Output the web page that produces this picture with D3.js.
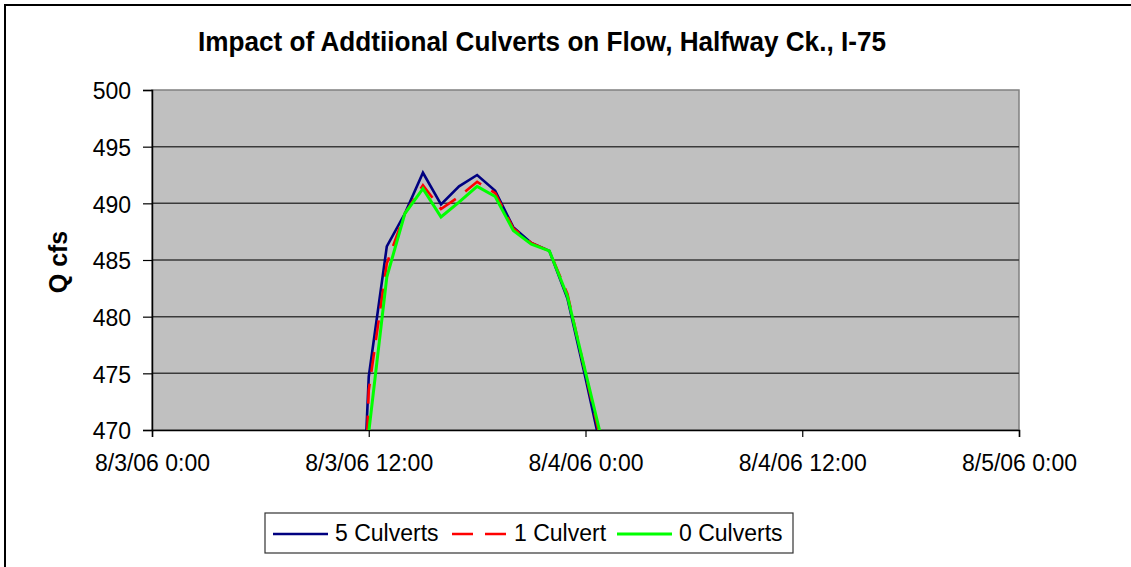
<!DOCTYPE html>
<html>
<head>
<meta charset="utf-8">
<script src="https://cdn.jsdelivr.net/npm/d3@7"></script>
<style>
  html, body { margin: 0; padding: 0; background: #fff; }
  svg { display: block; font-family: "Liberation Sans", Arial, sans-serif; }
</style>
</head>
<body>
<svg id="chart" width="1131" height="567"></svg>
<script>
// Hourly flow (cfs) on 8/3/06 – 8/4/06, hour offsets from 8/3/06 0:00
const hours = [11, 12, 13, 14, 15, 16, 17, 18, 19, 20, 21, 22, 23, 24, 25];
const fiveCulverts = [438, 474.7, 486.2, 489.1, 492.7, 489.9, 491.5, 492.5, 491.1, 487.9, 486.5, 485.8, 481.6, 474.6, 467.3];
const oneCulvert   = [430, 473.5, 484.7, 489.1, 491.6, 489.5, 490.6, 491.9, 490.9, 487.8, 486.5, 485.8, 482.0, 475.0, 468.0];
const zeroCulverts = [440, 469.8, 483.5, 489.1, 491.3, 488.8, 490.1, 491.5, 490.6, 487.6, 486.4, 485.8, 481.8, 475.1, 468.5];

const seriesNames = ["5 Culverts", "1 Culvert", "0 Culverts"];
const yTicks = [470, 475, 480, 485, 490, 495, 500];
const xTickHours = [0, 12, 24, 36, 48];
const xTickLabels = ["8/3/06 0:00", "8/3/06 12:00", "8/4/06 0:00", "8/4/06 12:00", "8/5/06 0:00"];

const svg = d3.select("#chart");
const plot = { left: 152, top: 90, right: 1019, bottom: 430 };

const x = d3.scaleLinear().domain([0, 48]).range([plot.left, plot.right]);
const y = d3.scaleLinear().domain([470, 500]).range([plot.bottom, plot.top]);

// outer chart frame
svg.append("rect")
  .attr("x", 5).attr("y", 5).attr("width", 1140).attr("height", 580)
  .attr("fill", "#fff").attr("stroke", "#000").attr("stroke-width", 2);

// title
svg.append("text")
  .attr("x", 542).attr("y", 51)
  .attr("text-anchor", "middle")
  .attr("font-size", 27).attr("font-weight", "bold")
  .attr("textLength", 688).attr("lengthAdjust", "spacingAndGlyphs")
  .text("Impact of Addtiional Culverts on Flow, Halfway Ck., I-75");

// plot background
svg.append("rect")
  .attr("x", plot.left).attr("y", plot.top)
  .attr("width", plot.right - plot.left).attr("height", plot.bottom - plot.top)
  .attr("fill", "#c0c0c0").attr("stroke", "#808080").attr("stroke-width", 1.5);

// horizontal gridlines
svg.append("g")
  .selectAll("line")
  .data(yTicks.filter(v => v > 470 && v < 500))
  .join("line")
  .attr("x1", plot.left).attr("x2", plot.right)
  .attr("y1", d => y(d)).attr("y2", d => y(d))
  .attr("stroke", "#3a3a3a").attr("stroke-width", 1.5);

// y axis
const yAxis = svg.append("g")
  .attr("transform", `translate(${plot.left},0)`)
  .call(d3.axisLeft(y).tickValues(yTicks).tickSize(9).tickPadding(12).tickFormat(d3.format("d")));
yAxis.select(".domain").attr("stroke", "#000").attr("stroke-width", 1.5);
yAxis.selectAll(".tick line").attr("stroke", "#000").attr("stroke-width", 1.2);
yAxis.selectAll(".tick text")
  .attr("font-size", 23).attr("font-family", "Liberation Sans, Arial, sans-serif")
  .attr("fill", "#000").attr("dy", "0.38em");

// x axis
const xAxis = svg.append("g")
  .attr("transform", `translate(0,${plot.bottom})`)
  .call(d3.axisBottom(x).tickValues(xTickHours).tickSize(7).tickPadding(18)
    .tickFormat((d, i) => xTickLabels[i]));
xAxis.select(".domain").attr("stroke", "#000").attr("stroke-width", 1.5);
xAxis.selectAll(".tick line").attr("stroke", "#000").attr("stroke-width", 1.2);
xAxis.selectAll(".tick text")
  .attr("font-size", 23).attr("font-family", "Liberation Sans, Arial, sans-serif")
  .attr("fill", "#000").attr("dy", "0.71em");

// y axis title
svg.append("text")
  .attr("transform", "translate(67,262) rotate(-90)")
  .attr("text-anchor", "middle")
  .attr("font-size", 25).attr("font-weight", "bold")
  .text("Q cfs");

// series lines, clipped to plot area
svg.append("clipPath").attr("id", "plotClip")
  .append("rect")
  .attr("x", plot.left).attr("y", plot.top)
  .attr("width", plot.right - plot.left).attr("height", plot.bottom - plot.top);

const line = d3.line().x(d => x(d[0])).y(d => y(d[1]));
const series = [
  { name: seriesNames[0], values: fiveCulverts, color: "#000080", width: 2.6, dash: null },
  { name: seriesNames[1], values: oneCulvert, color: "#ff0000", width: 2.6, dash: "20,12" },
  { name: seriesNames[2], values: zeroCulverts, color: "#00ff00", width: 3, dash: null }
];

const lines = svg.append("g").attr("clip-path", "url(#plotClip)");
series.forEach(s => {
  lines.append("path")
    .datum(hours.map((h, i) => [h, s.values[i]]))
    .attr("d", line)
    .attr("fill", "none")
    .attr("stroke", s.color)
    .attr("stroke-width", s.width)
    .attr("stroke-linejoin", "miter")
    .attr("stroke-dasharray", s.dash);
});

// legend
const legend = svg.append("g");
legend.append("rect")
  .attr("x", 265).attr("y", 513).attr("width", 528).attr("height", 40)
  .attr("fill", "#fff").attr("stroke", "#333").attr("stroke-width", 1.2);
const legendX = [273, 452, 617];
series.forEach((s, i) => {
  legend.append("line")
    .attr("x1", legendX[i]).attr("x2", legendX[i] + 55)
    .attr("y1", 534).attr("y2", 534)
    .attr("stroke", s.color).attr("stroke-width", s.width)
    .attr("stroke-dasharray", s.dash ? "21,12" : null);
  legend.append("text")
    .attr("x", legendX[i] + 62).attr("y", 541)
    .attr("font-size", 23)
    .text(s.name);
});
</script>
</body>
</html>
